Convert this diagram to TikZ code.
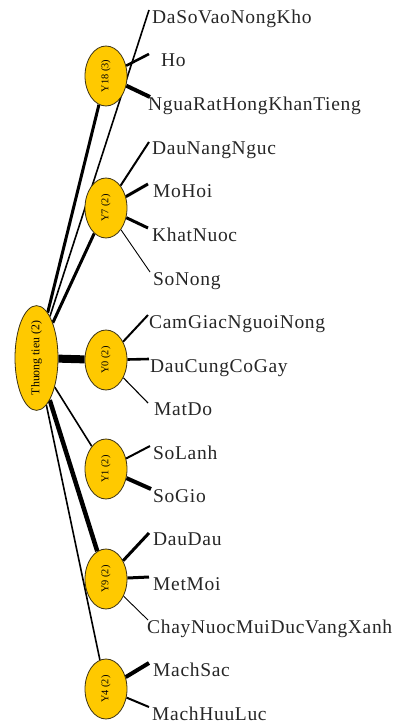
\documentclass[tikz,border=0pt]{standalone}
\usepackage{fontspec}
\usepackage{graphicx}
\setmainfont{Liberation Serif}
\newfontfamily\leaffont[LetterSpace=3.5]{Liberation Serif}
\usetikzlibrary{shapes.geometric,backgrounds}
\definecolor{nodefill}{RGB}{255,201,0}
\definecolor{nodeline}{RGB}{60,50,20}
\tikzset{
  ynode/.style={ellipse, draw=nodeline, line width=0.8pt, fill=nodefill, inner sep=0pt,
    minimum width=42pt, minimum height=60pt, font=\fontsize{10.3}{10.3}\selectfont},
  rootnode/.style={ynode, minimum width=43pt, minimum height=100pt, font=\fontsize{11.8}{11.8}\selectfont},
  leaf/.style={anchor=north west, inner xsep=3pt, inner ysep=0pt, font=\leaffont\fontsize{19.5}{20}\selectfont, text=black!85},
  edge/.style={line width=#1, black}
}
\begin{document}
\begin{tikzpicture}[x=1pt,y=-1pt]
\useasboundingbox (0,0) rectangle (399,725);
\node[rootnode] (root) at (36.5,358) {\rotatebox{90}{Thuong tieu (2)}};
\node[ynode] (y18) at (106,76) {\rotatebox{90}{Y18 (3)}};
\node[ynode] (y7) at (106,208) {\rotatebox{90}{Y7 (2)}};
\node[ynode] (y0) at (106,360) {\rotatebox{90}{Y0 (2)}};
\node[ynode] (y1) at (106,469) {\rotatebox{90}{Y1 (2)}};
\node[ynode] (y9) at (106,579) {\rotatebox{90}{Y9 (2)}};
\node[ynode] (y4) at (106,689) {\rotatebox{90}{Y4 (2)}};
% leaves
\node[leaf] (dasovaonongkho) at (149,10) {DaSoVaoNongKho};
\node[leaf, inner xsep=12pt] (ho) at (149,54) {Ho};
\node[leaf, inner xsep=0pt] (nguarat) at (148,97) {NguaRatHongKhanTieng};
\node[leaf] (daunangnguc) at (149,142) {DauNangNguc};
\node[leaf, inner xsep=5pt] (mohoi) at (148,184) {MoHoi};
\node[leaf, inner xsep=4pt] (khatnuoc) at (148,228) {KhatNuoc};
\node[leaf] (sonong) at (150,272) {SoNong};
\node[leaf, inner xsep=1pt] (camgiac) at (148,315) {CamGiacNguoiNong};
\node[leaf, inner xsep=1pt] (daucung) at (149,359) {DauCungCoGay};
\node[leaf, inner xsep=6pt] (matdo) at (148,403) {MatDo};
\node[leaf] (solanh) at (150,446) {SoLanh};
\node[leaf, inner xsep=2pt] (sogio) at (151,489) {SoGio};
\node[leaf, inner xsep=4pt] (daudau) at (149,533) {DauDau};
\node[leaf, inner xsep=4pt] (metmoi) at (149,577) {MetMoi};
\node[leaf, inner xsep=0pt] (chaynuoc) at (147,620) {ChayNuocMuiDucVangXanh};
\node[leaf, inner xsep=4pt] (machsac) at (149,663) {MachSac};
\node[leaf, inner xsep=3pt] (machhuuluc) at (149,707) {MachHuuLuc};
\begin{pgfonlayer}{background}
  \draw[edge=1.6pt] (root) -- (dasovaonongkho.north west);
  \draw[edge=3pt] (root) -- (y18);
  \draw[edge=3pt] (root) -- (y7);
  \draw[edge=8pt] (root) -- (y0);
  \draw[edge=1.6pt] (root) -- (y1);
  \draw[edge=4.5pt] (root) -- (y9);
  \draw[edge=1.6pt] (root) -- (y4);
  \draw[edge=2.6pt] (y18) -- (ho.north west);
  \draw[edge=4pt] (y18) -- ([xshift=2pt]nguarat.north west);
  \draw[edge=2pt] (y7) -- (daunangnguc.north west);
  \draw[edge=3pt] (y7) -- (mohoi.north west);
  \draw[edge=3pt] (y7) -- (khatnuoc.north west);
  \draw[edge=0.9pt] (y7) -- (sonong.north west);
  \draw[edge=2pt] (y0) -- (camgiac.north west);
  \draw[edge=2.6pt] (y0) -- (daucung.north west);
  \draw[edge=1.1pt] (y0) -- (matdo.north west);
  \draw[edge=2pt] (y1) -- (solanh.north west);
  \draw[edge=4pt] (y1) -- (sogio.north west);
  \draw[edge=3pt] (y9) -- (daudau.north west);
  \draw[edge=3pt] (y9) -- (metmoi.north west);
  \draw[edge=0.9pt] (y9) -- ([xshift=1pt]chaynuoc.north west);
  \draw[edge=4pt] (y4) -- (machsac.north west);
  \draw[edge=2pt] (y4) -- (machhuuluc.north west);
\end{pgfonlayer}
\end{tikzpicture}
\end{document}
